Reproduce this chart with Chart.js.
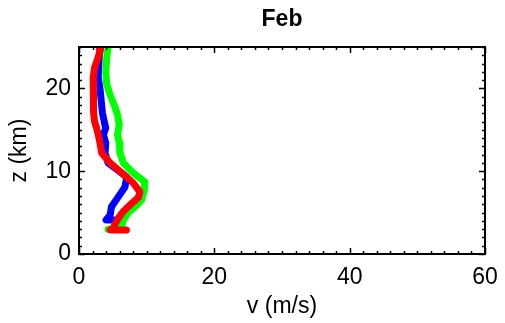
<!DOCTYPE html>
<html lang="en">
<head>
  <meta charset="UTF-8" />
  <title>Feb – wind profiles</title>
  <script src="https://cdn.jsdelivr.net/npm/chart.js"></script>
  <style>
    * {
      box-sizing: border-box;
    }

    body {
      margin: 0;
      background: #fff;
    }

    #chart-container {
      position: relative;
      width: 505px;
      height: 323px;
    }
  </style>
</head>
<body>

  <div id="chart-container">
    <canvas id="profileChart"></canvas>
  </div>

  <script>
    const chartTitle = 'Feb';
    const xTicks = [0, 20, 40, 60];
    const yTicks = [0, 10, 20];

    // red profile (height in km, speed in m/s)
    const zRed = [25, 24.5, 23.7, 22.5, 21.3, 20.5, 19.2, 18, 17.1, 16, 15.2, 14.4, 13.4, 12.2, 11, 9.8, 8.6, 7.5, 6.8, 5.9, 5.1, 4.3, 3.7, 3.2, 2.9, 2.9];
    const vRed = [3.0, 3.1, 2.8, 2.3, 2.1, 2.2, 2.2, 2.1, 2.1, 2.3, 2.6, 2.85, 3.1, 3.35, 4.6, 6.3, 8.0, 9.0, 8.75, 7.5, 6.5, 5.8, 5.4, 5.1, 4.6, 7.0];

    // blue profile
    const zBlue = [25, 24, 22.5, 21.3, 20.0, 18.8, 17.1, 15.9, 15.2, 14.4, 13.4, 12.2, 11.0, 10.1, 9.3, 8.1, 6.9, 5.7, 4.7, 4.1, 4.1];
    const vBlue = [3.2, 3.0, 2.9, 2.85, 3.1, 3.25, 3.45, 3.75, 3.95, 3.6, 3.95, 3.85, 4.3, 5.8, 7.05, 6.8, 5.8, 4.8, 4.6, 4.0, 5.2];

    // green profile
    const zGreen = [25, 23.7, 22.0, 20.5, 19.2, 18.0, 16.8, 15.6, 14.4, 13.4, 12.2, 11.0, 9.8, 8.7, 7.7, 6.5, 5.7, 5.0, 4.1, 3.3, 3.0, 3.0];
    const vGreen = [4.3, 4.1, 3.95, 4.1, 4.6, 5.2, 5.7, 5.95, 5.7, 5.95, 6.05, 6.55, 8.0, 9.75, 9.65, 9.25, 8.3, 7.3, 6.55, 6.3, 6.3, 4.3];

    const fontFamily = "'Liberation Sans', Arial, sans-serif";

    function toPoints(vs, zs) {
      return vs.map((v, i) => ({ x: v, y: zs[i] }));
    }

    function profile(color, vs, zs) {
      return {
        data: toPoints(vs, zs),
        showLine: true,
        borderColor: color,
        backgroundColor: color,
        borderWidth: 7,
        borderCapStyle: 'round',
        borderJoinStyle: 'round',
        pointRadius: 0,
        tension: 0
      };
    }

    // box, inward ticks on all four sides, and the title
    const framePlugin = {
      id: 'frame',
      afterDraw: chart => {
        const ctx = chart.ctx;
        const area = chart.chartArea;
        const xs = chart.scales.x;
        const ys = chart.scales.y;
        ctx.save();
        ctx.strokeStyle = '#000';
        ctx.lineWidth = 1.5;
        ctx.beginPath();
        for (let v = 0; v <= 60; v += 2) {
          const px = Math.round(xs.getPixelForValue(v)) + 0.5;
          const len = v % 20 === 0 ? 6 : 3;
          ctx.moveTo(px, area.bottom);
          ctx.lineTo(px, area.bottom - len);
          ctx.moveTo(px, area.top);
          ctx.lineTo(px, area.top + len);
        }
        for (let z = 0; z <= 25; z += 1) {
          const py = Math.round(ys.getPixelForValue(z)) + 0.5;
          const len = z % 10 === 0 ? 6 : 3;
          ctx.moveTo(area.left, py);
          ctx.lineTo(area.left + len, py);
          ctx.moveTo(area.right, py);
          ctx.lineTo(area.right - len, py);
        }
        ctx.stroke();
        ctx.lineWidth = 2;
        ctx.strokeRect(area.left, area.top, area.right - area.left, area.bottom - area.top);

        ctx.fillStyle = '#000';
        ctx.font = 'bold 23px ' + fontFamily;
        ctx.textAlign = 'center';
        ctx.textBaseline = 'middle';
        ctx.fillText(chartTitle, (area.left + area.right) / 2, 20);
        ctx.restore();
      }
    };

    const ctx = document.getElementById('profileChart').getContext('2d');

    new Chart(ctx, {
      type: 'scatter',
      data: {
        datasets: [
          profile('#ff0000', vRed, zRed),
          profile('#0000ff', vBlue, zBlue),
          profile('#00ff00', vGreen, zGreen)
        ]
      },
      options: {
        responsive: true,
        maintainAspectRatio: false,
        animation: false,
        layout: {
          padding: { top: 47, right: 20, left: 0, bottom: 0 }
        },
        plugins: {
          legend: { display: false },
          tooltip: { enabled: false }
        },
        scales: {
          x: {
            type: 'linear',
            min: 0,
            max: 60,
            afterBuildTicks: scale => {
              scale.ticks = xTicks.map(v => ({ value: v }));
            },
            afterFit: scale => {
              scale.height = 69;
              // keep the "60" label from pushing the plot edge inward
              scale.paddingRight = 0;
              scale.paddingLeft = 0;
            },
            grid: { display: false, drawTicks: false },
            border: { display: false },
            ticks: {
              color: '#000',
              padding: 10,
              maxRotation: 0,
              font: { family: fontFamily, size: 23 }
            },
            title: {
              display: true,
              text: 'v (m/s)',
              color: '#000',
              padding: { top: 0, bottom: 3 },
              font: { family: fontFamily, size: 23 }
            }
          },
          y: {
            type: 'linear',
            min: 0,
            max: 25,
            afterBuildTicks: scale => {
              scale.ticks = yTicks.map(v => ({ value: v }));
            },
            afterFit: scale => {
              scale.width = 79;
            },
            grid: { display: false, drawTicks: false },
            border: { display: false },
            ticks: {
              color: '#000',
              padding: 8,
              font: { family: fontFamily, size: 23 }
            },
            title: {
              display: true,
              text: 'z (km)',
              color: '#000',
              padding: { top: 6, bottom: 0 },
              font: { family: fontFamily, size: 23 }
            }
          }
        }
      },
      plugins: [framePlugin]
    });
  </script>

</body>
</html>
